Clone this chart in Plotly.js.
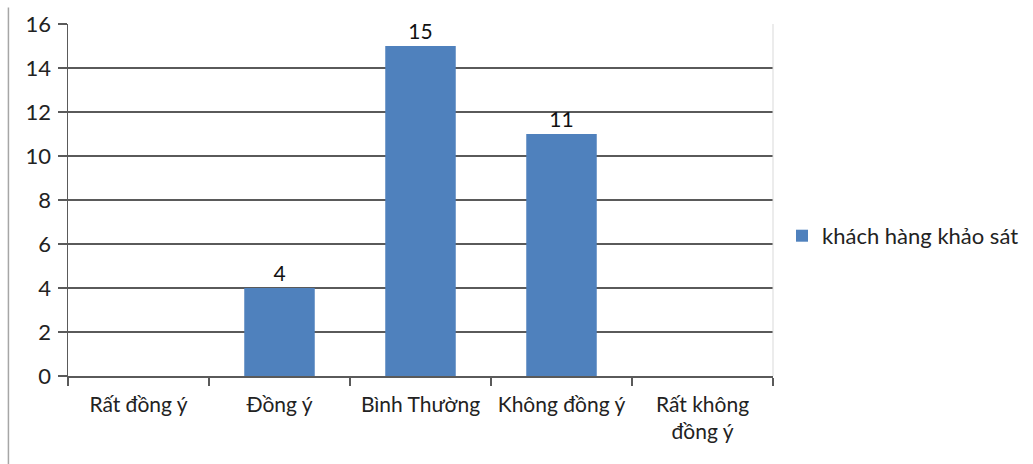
<!DOCTYPE html>
<html>
<head>
<meta charset="utf-8">
<script src="https://cdn.plot.ly/plotly-3.0.1.min.js"></script>
<style>html,body{margin:0;padding:0;background:#fff;}#chart{width:1033px;height:464px;}</style>
</head>
<body>
<div id="chart"></div>
<script>
var categories = ["Rất đồng ý", "Đồng ý", "Bình Thường", "Không đồng ý", "Rất không<br>đồng ý"];
var values = [0, 4, 15, 11, 0];
var seriesName = "khách hàng khảo sát";
var yTicks = [0, 2, 4, 6, 8, 10, 12, 14, 16];

var font = "Lato, Open Sans, sans-serif";

var trace = {
  type: "bar",
  x: categories,
  y: values,
  name: seriesName,
  width: 0.5,
  marker: {color: "#4F81BD"},
  text: values.map(function (v) { return v ? String(v) : ""; }),
  textposition: "outside",
  textfont: {family: font, size: 21, color: "#111"},
  cliponaxis: false,
  showlegend: true,
  hoverinfo: "x+y"
};

var layout = {
  width: 1033,
  height: 464,
  margin: {l: 68, r: 260, t: 24, b: 88, autoexpand: false},
  paper_bgcolor: "#fff",
  plot_bgcolor: "#fff",
  font: {family: font, size: 21, color: "#222"},
  showlegend: true,
  legend: {
    x: 1.0128, y: 0.398, xanchor: "left", yanchor: "middle",
    font: {family: font, size: 22, color: "#222"},
    itemwidth: 30
  },
  xaxis: {
    type: "category",
    automargin: false,
    showline: true, linecolor: "#5a5a5a", linewidth: 1.5,
    ticks: "outside", tickson: "boundaries", ticklen: 8, tickcolor: "#5a5a5a", tickwidth: 1.5,
    showgrid: false,
    tickfont: {family: font, size: 21, color: "#222"},
    ticklabelstandoff: 9,
    fixedrange: true
  },
  yaxis: {
    range: [0, 16],
    automargin: false,
    tickvals: yTicks,
    ticktext: yTicks.map(String),
    showline: true, linecolor: "#5a5a5a", linewidth: 1.5,
    ticks: "outside", ticklen: 9, tickcolor: "#5a5a5a", tickwidth: 1.5,
    showgrid: true, gridcolor: "#5a5a5a", gridwidth: 1.5,
    zeroline: false,
    tickfont: {family: font, size: 22, color: "#222"},
    ticklabelstandoff: 2,
    fixedrange: true
  },
  shapes: [
    {type: "line", xref: "paper", yref: "paper", x0: 1, x1: 1, y0: 0, y1: 1,
     line: {color: "#d9d9d9", width: 1}},
    {type: "line", xref: "paper", yref: "paper", x0: -0.0845, x1: -0.0845, y0: -0.26, y1: 1.047,
     line: {color: "#a6a6a6", width: 1.5}}
  ]
};

Plotly.newPlot("chart", [trace], layout, {displayModeBar: false, staticPlot: true});
</script>
</body>
</html>
